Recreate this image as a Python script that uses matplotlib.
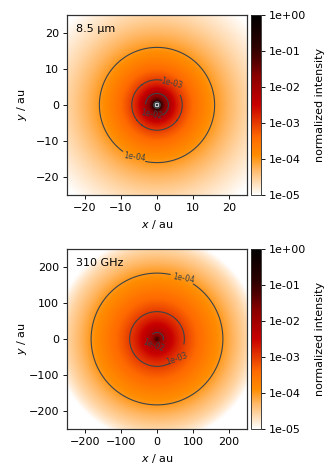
import numpy as np
import matplotlib
matplotlib.use('Agg')
import matplotlib.pyplot as plt
from matplotlib.colors import LogNorm, LinearSegmentedColormap
from matplotlib.ticker import FixedLocator, FuncFormatter

# radial intensity profiles
r_mir = [0.01, 0.12, 0.3, 0.72, 0.95, 1.3, 2.0, 3.2, 5.0, 7.0, 11.0, 16.0, 21.0, 25.0, 30.0, 34.0, 36.0]
i_mir = [1.0, 0.6, 1e-7, 1e-7, 0.2, 0.09, 0.03, 1e-2, 2.6e-3, 1e-3, 3e-4, 1e-4, 4.5e-5, 2.6e-5, 1.5e-5, 1e-5, 8e-6]
r_mm = [0.1, 3.0, 8.0, 18.0, 45.0, 76.0, 125.0, 183.0, 225.0, 250.0, 270.0, 285.0, 296.0, 360.0]
i_mm = [0.3, 0.07, 0.03, 1e-2, 2.8e-3, 1e-3, 3.2e-4, 1e-4, 4.2e-5, 2.6e-5, 1.6e-5, 1e-5, 1e-6, 1e-6]

extents = [25, 250]
panel_labels = ['8.5 µm', '310 GHz']
x_ticks = [[-20, -10, 0, 10, 20], [-200, -100, 0, 100, 200]]
levels = [1e-4, 1e-3, 1e-2]
gap_pos = [[(-6.5, -14.6), (4.5, 5.5), (-1.7, -2.7)],
           [(70, 169), (61, -46), (-9, -16)]]
text_pos = [[(-6.2, -14.6), (4.0, 5.9), (-1.5, -2.7)],
            [(74, 168), (55, -55), (-9, -18)]]
text_rot = [[-8, -14, -10], [-10, 20, -20]]
cbar_ticks = [1e-5, 1e-4, 1e-3, 1e-2, 1e-1, 1e0]

cmap_stops = [0.0, 0.14, 0.22, 0.32, 0.39, 0.5, 0.66, 0.75, 0.83, 1.0]
cmap_colors = ['#ffffff', '#ffb866', '#ff8c00', '#ff6a00', '#e84000', '#c80000',
               '#8a0000', '#500000', '#2a0000', '#000000']
heat = LinearSegmentedColormap.from_list('heat', list(zip(cmap_stops, cmap_colors)), N=512)

W, H = 334, 476
fig = plt.figure(figsize=(W / 80, H / 80), dpi=80)

tops = [15, 249]
profiles = [(r_mir, i_mir), (r_mm, i_mm)]

for k in range(2):
    ax = fig.add_axes([67 / W, 1 - (tops[k] + 180) / H, 180 / W, 180 / H])
    cax = fig.add_axes([251 / W, 1 - (tops[k] + 180) / H, 10 / W, 180 / H])

    ext = extents[k]
    xs = np.linspace(-ext, ext, 1001)
    X, Y = np.meshgrid(xs, xs)
    R = np.maximum(np.hypot(X, Y), 1e-3)
    rr, ii = profiles[k]
    Z = 10 ** np.interp(np.log10(R), np.log10(rr), np.log10(ii))

    norm = LogNorm(vmin=1e-5, vmax=1)
    im = ax.imshow(Z, origin='lower', extent=[-ext, ext, -ext, ext], cmap=heat,
                   norm=norm, interpolation='bilinear')
    cs = ax.contour(X, Y, Z, levels=levels, colors='#3c4448', linewidths=1.0)
    labels = ax.clabel(cs, fmt='%.0e', fontsize=7, inline=True, inline_spacing=1, manual=gap_pos[k])
    for t, p, rot in zip(labels, text_pos[k], text_rot[k]):
        t.set_position(p)
        t.set_rotation(rot)

    ax.set_xlim(-ext, ext)
    ax.set_ylim(-ext, ext)
    ax.set_xticks(x_ticks[k])
    ax.set_yticks(x_ticks[k])
    ax.set_xlabel('$x$ / au', labelpad=5)
    ax.set_ylabel('$y$ / au')
    ax.yaxis.set_label_coords(-38 / 180, 0.5)
    ax.text(0.05, 0.92, panel_labels[k], transform=ax.transAxes, va='center', ha='left')
    for s in ax.spines.values():
        s.set_edgecolor('#303030')
        s.set_linewidth(1.1)

    cbar = fig.colorbar(im, cax=cax)
    cbar.ax.yaxis.set_major_locator(FixedLocator(cbar_ticks))
    cbar.ax.yaxis.set_major_formatter(FuncFormatter(lambda v, p: '%.0e' % v))
    cbar.ax.minorticks_off()
    cbar.set_label('normalized intensity', labelpad=8)
    cbar.outline.set_edgecolor('#303030')

fig.savefig('out.png', dpi=80)
